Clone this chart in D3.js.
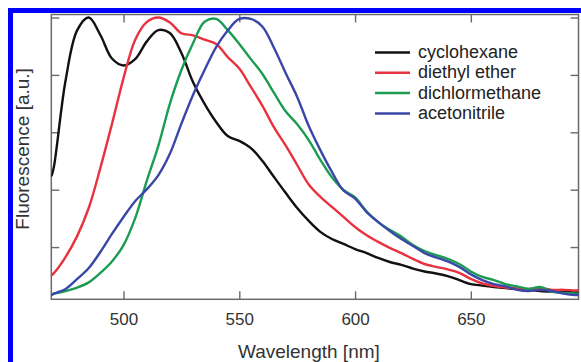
<!DOCTYPE html>
<html>
<head>
<meta charset="utf-8">
<script src="https://cdn.jsdelivr.net/npm/d3@7"></script>
<style>
  html, body { margin: 0; padding: 0; background: #fff; }
  svg { display: block; font-family: "Liberation Sans", Arial, Helvetica, sans-serif; }
</style>
</head>
<body>
<svg id="chart" width="581" height="362"></svg>
<script>
// ---- data ----
const wavelengths = [469, 470, 475, 480, 485, 490, 495, 500, 505, 510, 515, 520, 525, 530, 535, 540, 545, 550, 555, 560, 565, 570, 575, 580, 585, 590, 595, 600, 605, 610, 615, 620, 625, 630, 635, 640, 645, 650, 655, 660, 665, 670, 675, 680, 685, 690, 695, 696.5];

const cyclohexane = [0.45, 0.483, 0.782, 0.956, 1.0, 0.939, 0.857, 0.833, 0.855, 0.916, 0.956, 0.946, 0.876, 0.775, 0.699, 0.636, 0.587, 0.570, 0.545, 0.50, 0.444, 0.389, 0.336, 0.291, 0.253, 0.228, 0.211, 0.193, 0.179, 0.162, 0.148, 0.138, 0.125, 0.115, 0.108, 0.099, 0.085, 0.071, 0.066, 0.061, 0.057, 0.054, 0.051, 0.047, 0.045, 0.044, 0.042, 0.042];

const diethylEther = [0.103, 0.110, 0.166, 0.239, 0.337, 0.476, 0.629, 0.789, 0.922, 0.984, 1.0, 0.983, 0.945, 0.938, 0.923, 0.908, 0.862, 0.822, 0.758, 0.692, 0.617, 0.554, 0.486, 0.418, 0.375, 0.340, 0.305, 0.270, 0.241, 0.218, 0.197, 0.179, 0.159, 0.141, 0.131, 0.122, 0.110, 0.089, 0.073, 0.064, 0.059, 0.056, 0.054, 0.057, 0.051, 0.051, 0.049, 0.049];

const dichlormethane = [0.037, 0.038, 0.047, 0.059, 0.077, 0.110, 0.150, 0.207, 0.300, 0.430, 0.552, 0.699, 0.817, 0.910, 0.985, 0.995, 0.956, 0.908, 0.855, 0.803, 0.737, 0.673, 0.628, 0.573, 0.504, 0.443, 0.399, 0.373, 0.324, 0.287, 0.260, 0.237, 0.207, 0.186, 0.172, 0.159, 0.141, 0.115, 0.096, 0.085, 0.071, 0.063, 0.054, 0.061, 0.045, 0.040, 0.038, 0.038];

const acetonitrile = [0.033, 0.038, 0.054, 0.089, 0.127, 0.183, 0.246, 0.305, 0.360, 0.401, 0.450, 0.525, 0.630, 0.730, 0.817, 0.897, 0.955, 0.995, 0.995, 0.968, 0.894, 0.807, 0.723, 0.622, 0.538, 0.462, 0.397, 0.369, 0.322, 0.287, 0.256, 0.228, 0.204, 0.179, 0.164, 0.150, 0.131, 0.105, 0.085, 0.071, 0.063, 0.051, 0.047, 0.051, 0.047, 0.038, 0.033, 0.033];

const seriesNames = ["cyclohexane", "diethyl ether", "dichlormethane", "acetonitrile"];
const seriesValues = [cyclohexane, diethylEther, dichlormethane, acetonitrile];
const seriesColors = ["#111111", "#e8323f", "#1c9c52", "#3b47a8"];

const xTicks = [500, 550, 600, 650];
const yTicks = [0.2, 0.4, 0.6, 0.8, 1.0];
const xTitle = "Wavelength [nm]";
const yTitle = "Fluorescence [a.u.]";

// ---- layout ----
const svg = d3.select("#chart");
const L = 51.3, R = 578.5, T = 14.5, B = 299.3;

// blue outer frame (cut off at right and bottom)
svg.append("rect")
  .attr("x", 10.5).attr("y", 10.5)
  .attr("width", 700).attr("height", 500)
  .attr("fill", "none").attr("stroke", "#0000ff").attr("stroke-width", 5);

const x = d3.scaleLinear().domain([468.8, 696.5]).range([L, R]);
const y = d3.scaleLinear().domain([0.018, 1.0105]).range([B, T]);

const tickLen = 8;
const axisColor = "#6a6a6a";

// axes (ticks pointing inward)
const gB = svg.append("g").attr("transform", `translate(0,${B})`)
  .call(d3.axisBottom(x).tickValues(xTicks).tickSizeInner(-tickLen).tickSizeOuter(0).tickPadding(14));
const gT = svg.append("g").attr("transform", `translate(0,${T})`)
  .call(d3.axisTop(x).tickValues(xTicks).tickSizeInner(-tickLen).tickSizeOuter(0).tickFormat(""));
const gL = svg.append("g").attr("transform", `translate(${L},0)`)
  .call(d3.axisLeft(y).tickValues(yTicks).tickSizeInner(-tickLen).tickSizeOuter(0).tickFormat(""));
const gR = svg.append("g").attr("transform", `translate(${R},0)`)
  .call(d3.axisRight(y).tickValues(yTicks).tickSizeInner(-tickLen).tickSizeOuter(0).tickFormat(""));

[gB, gT, gL, gR].forEach(g => {
  g.select(".domain").remove();
  g.selectAll(".tick line").attr("stroke", axisColor).attr("stroke-width", 1.4);
});
gB.selectAll(".tick text")
  .attr("fill", "#333").attr("font-size", 17)
  .attr("font-family", "'Liberation Sans', Arial, sans-serif");

// plot frame
svg.append("rect")
  .attr("x", L).attr("y", T).attr("width", R - L).attr("height", B - T)
  .attr("fill", "none").attr("stroke", axisColor).attr("stroke-width", 1.5);

// clip
svg.append("clipPath").attr("id", "clip")
  .append("rect").attr("x", L).attr("y", T).attr("width", R - L).attr("height", B - T);

const line = d3.line()
  .x((d, i) => x(wavelengths[i]))
  .y(d => y(d))
  .curve(d3.curveCatmullRom.alpha(0.5));

const gLines = svg.append("g").attr("clip-path", "url(#clip)");
seriesValues.forEach((vals, k) => {
  gLines.append("path")
    .datum(vals)
    .attr("d", line)
    .attr("fill", "none")
    .attr("stroke", seriesColors[k])
    .attr("stroke-width", 2.4)
    .attr("stroke-linejoin", "round")
    .attr("stroke-linecap", "round");
});

// legend
const legend = svg.append("g");
seriesNames.forEach((name, k) => {
  const yy = 52.5 + k * 20.3;
  legend.append("line")
    .attr("x1", 375).attr("x2", 410).attr("y1", yy).attr("y2", yy)
    .attr("stroke", seriesColors[k]).attr("stroke-width", 2.5);
  legend.append("text")
    .attr("x", 418).attr("y", yy + 5.5)
    .attr("font-size", 18).attr("fill", "#222")
    .text(name);
});

// axis titles
svg.append("text")
  .attr("x", (L + R) / 2 - 6).attr("y", 358)
  .attr("text-anchor", "middle").attr("font-size", 19).attr("fill", "#333")
  .text(xTitle);

svg.append("text")
  .attr("transform", `translate(29,${(T + B) / 2 - 8}) rotate(-90)`)
  .attr("text-anchor", "middle").attr("font-size", 19).attr("fill", "#333")
  .text(yTitle);
</script>
</body>
</html>
